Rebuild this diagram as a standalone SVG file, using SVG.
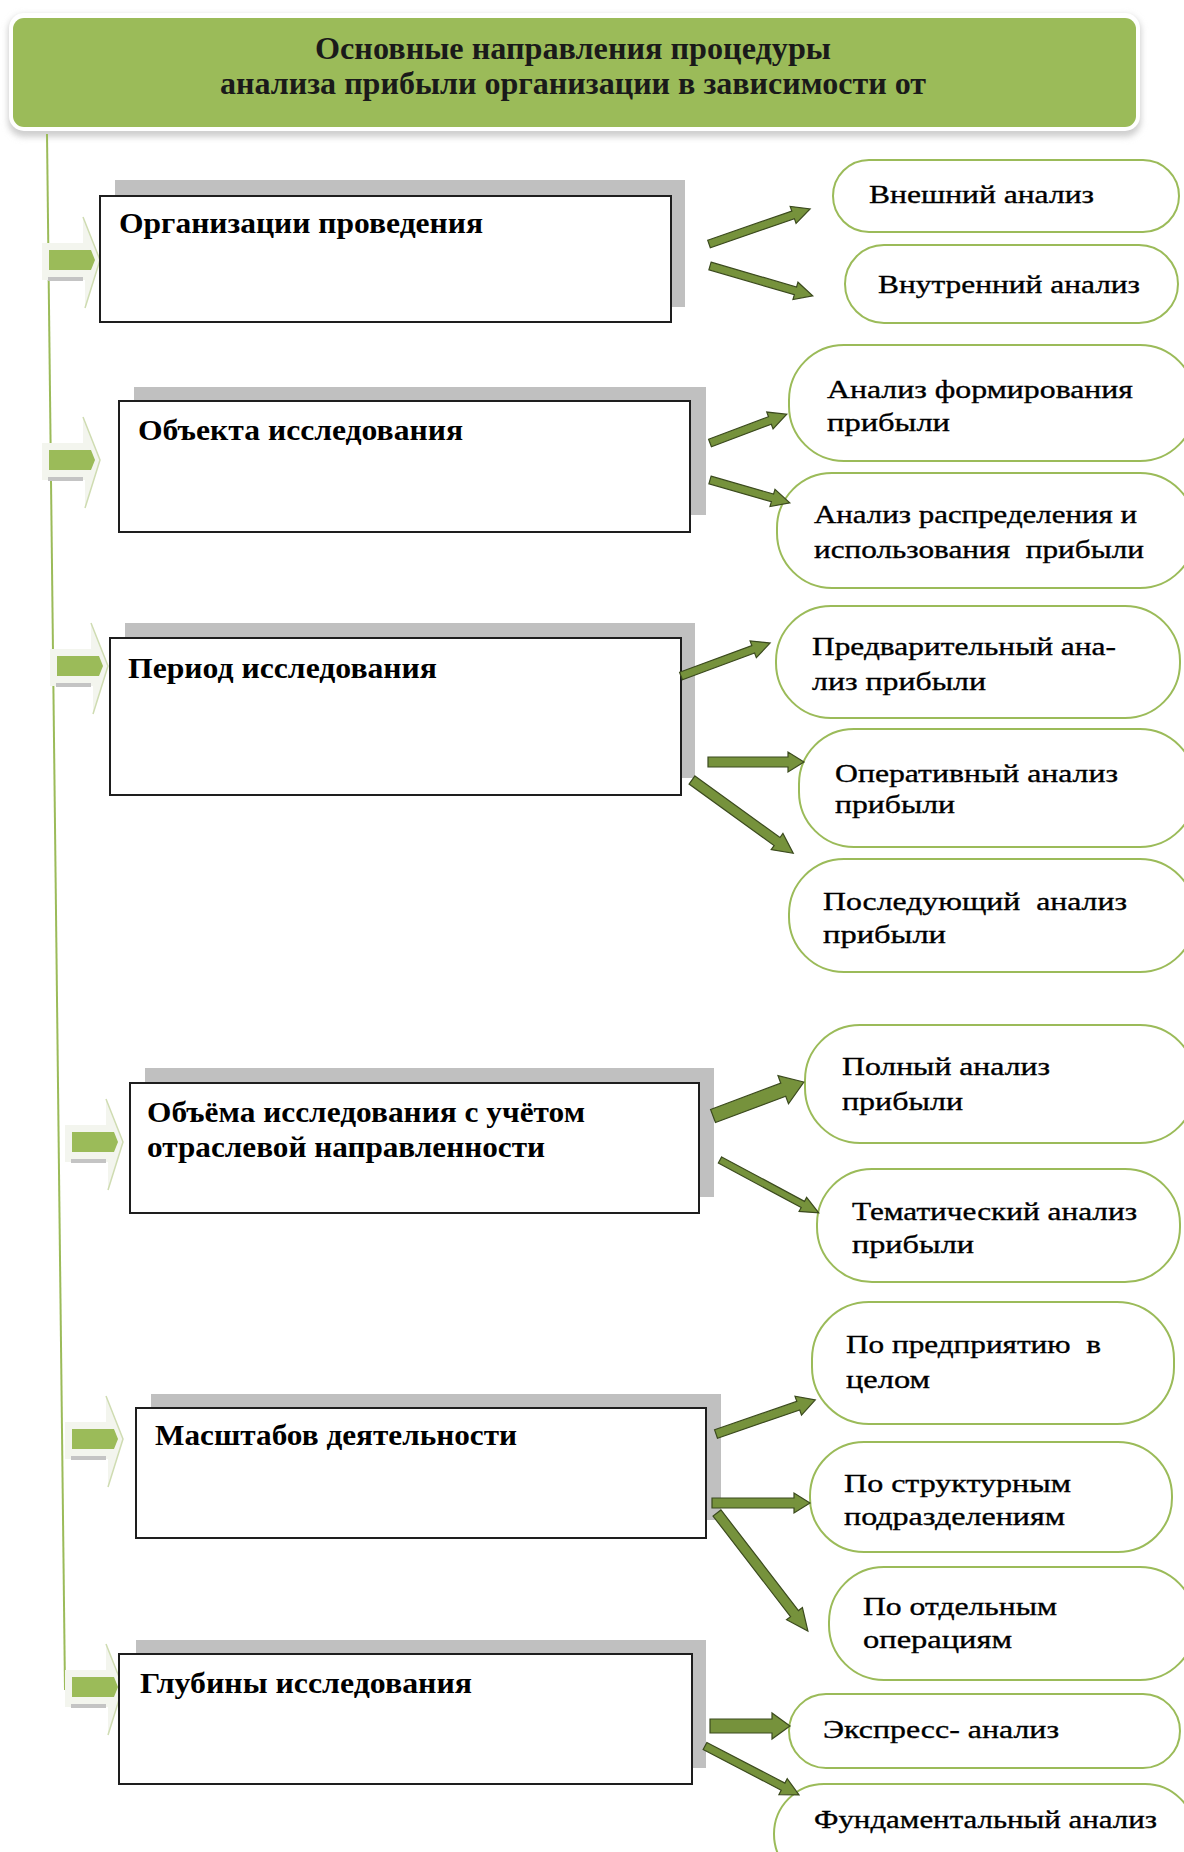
<svg xmlns="http://www.w3.org/2000/svg" width="1184" height="1852" viewBox="0 0 1184 1852">
<defs>
<style>
.ttl{font-family:"Liberation Serif","Times New Roman",serif;font-weight:bold;font-size:31px;fill:#1a1a1a}
.lbl{font-family:"Liberation Serif","Times New Roman",serif;font-weight:bold;font-size:30px;fill:#000}
.pt{font-family:"Liberation Serif","Times New Roman",serif;font-size:26px;fill:#000;stroke:#000;stroke-width:0.35}
.box{fill:#fff;stroke:#1e1e1e;stroke-width:2}
.shd{fill:#c0c0c0}
.pill{fill:#fff;stroke:#9bbb59;stroke-width:2}
.arr{fill:#76923c;stroke:#3b4a1e;stroke-width:1.2}
.pale{fill:#f3f5ee}
.tipl{fill:none;stroke:#cfdcb2;stroke-width:1.5}
.gr{fill:#9bbb59}
.gbar{fill:#c4c4c4}
</style>
<filter id="blur" x="-5%" y="-20%" width="110%" height="140%"><feGaussianBlur stdDeviation="3"/></filter>
<g id="chev">
<polygon class="pale" points="-7,-17 34,-17 34,-43 51,0 36,48 36,20 -7,20"/>
<polyline class="tipl" points="34,-43 51,0 36,48"/>
<path class="gr" d="M0,-10 L42,-10 L46,0 L42,10 L0,10 Z"/>
<rect class="gbar" x="-1" y="17" width="35" height="4"/>
</g>
</defs>
<rect width="1184" height="1852" fill="#fff"/>

<g id="title">
<rect x="8" y="15" width="1133" height="122" rx="16" fill="#cfcfcf" filter="url(#blur)"/>
<rect x="9" y="13" width="1131" height="118" rx="15" fill="#fff"/>
<rect x="13" y="18" width="1123" height="109" rx="11" fill="#9bbb59"/>
<text class="ttl" x="573" y="59" text-anchor="middle" textLength="516" lengthAdjust="spacingAndGlyphs">Основные направления процедуры</text>
<text class="ttl" x="573" y="94" text-anchor="middle" textLength="706" lengthAdjust="spacingAndGlyphs">анализа прибыли организации в зависимости от</text>
</g>

<g id="spine">
<line x1="47" y1="134" x2="65" y2="1690" stroke="#9bbb59" stroke-width="2"/>
</g>

<g id="node1">
<use href="#chev" transform="translate(49,260)"/>
<rect class="shd" x="115" y="180" width="570" height="127"/>
<rect class="box" x="100" y="196" width="571" height="126"/>
<text class="lbl" x="119" y="233" textLength="364" lengthAdjust="spacingAndGlyphs">Организации проведения</text>
</g>
<g id="node1a">
<rect class="pill" x="833" y="160" width="346" height="72" rx="36"/>
<text class="pt" x="869" y="203" textLength="225" lengthAdjust="spacingAndGlyphs">Внешний анализ</text>
</g>
<g id="node1b">
<rect class="pill" x="845" y="245" width="333" height="78" rx="39"/>
<text class="pt" x="878" y="293" textLength="262" lengthAdjust="spacingAndGlyphs">Внутренний анализ</text>
</g>

<g id="node2">
<use href="#chev" transform="translate(49,460)"/>
<rect class="shd" x="134" y="387" width="572" height="128"/>
<rect class="box" x="119" y="401" width="571" height="131"/>
<text class="lbl" x="138" y="440" textLength="325" lengthAdjust="spacingAndGlyphs">Объекта исследования</text>
</g>
<g id="node2a">
<rect class="pill" x="789" y="345" width="406" height="116" rx="55"/>
<text class="pt" x="827" y="398" textLength="306" lengthAdjust="spacingAndGlyphs">Анализ формирования</text>
<text class="pt" x="827" y="431" textLength="123" lengthAdjust="spacingAndGlyphs">прибыли</text>
</g>
<g id="node2b">
<rect class="pill" x="777" y="473" width="418" height="115" rx="55"/>
<text class="pt" x="814" y="523" textLength="323" lengthAdjust="spacingAndGlyphs">Анализ распределения и</text>
<text class="pt" x="814" y="558" textLength="330" lengthAdjust="spacingAndGlyphs" xml:space="preserve">использования  прибыли</text>
</g>

<g id="node3">
<use href="#chev" transform="translate(57,666)"/>
<rect class="shd" x="125" y="623" width="570" height="155"/>
<rect class="box" x="110" y="638" width="571" height="157"/>
<text class="lbl" x="128" y="678" textLength="309" lengthAdjust="spacingAndGlyphs">Период исследования</text>
</g>
<g id="node3a">
<rect class="pill" x="776" y="606" width="404" height="112" rx="55"/>
<text class="pt" x="812" y="655" textLength="304" lengthAdjust="spacingAndGlyphs">Предварительный ана-</text>
<text class="pt" x="812" y="690" textLength="174" lengthAdjust="spacingAndGlyphs">лиз прибыли</text>
</g>
<g id="node3b">
<rect class="pill" x="799" y="729" width="396" height="118" rx="55"/>
<text class="pt" x="835" y="782" textLength="283" lengthAdjust="spacingAndGlyphs">Оперативный анализ</text>
<text class="pt" x="835" y="813" textLength="120" lengthAdjust="spacingAndGlyphs">прибыли</text>
</g>
<g id="node3c">
<rect class="pill" x="789" y="859" width="406" height="113" rx="55"/>
<text class="pt" x="823" y="910" textLength="304" lengthAdjust="spacingAndGlyphs" xml:space="preserve">Последующий  анализ</text>
<text class="pt" x="823" y="943" textLength="123" lengthAdjust="spacingAndGlyphs">прибыли</text>
</g>

<g id="node4">
<use href="#chev" transform="translate(72,1142)"/>
<rect class="shd" x="145" y="1068" width="569" height="129"/>
<rect class="box" x="130" y="1083" width="569" height="130"/>
<text class="lbl" x="147" y="1122" textLength="438" lengthAdjust="spacingAndGlyphs">Объёма исследования с учётом</text>
<text class="lbl" x="147" y="1157" textLength="398" lengthAdjust="spacingAndGlyphs">отраслевой направленности</text>
</g>
<g id="node4a">
<rect class="pill" x="805" y="1025" width="390" height="118" rx="55"/>
<text class="pt" x="842" y="1075" textLength="208" lengthAdjust="spacingAndGlyphs">Полный анализ</text>
<text class="pt" x="842" y="1110" textLength="121" lengthAdjust="spacingAndGlyphs">прибыли</text>
</g>
<g id="node4b">
<rect class="pill" x="817" y="1169" width="363" height="113" rx="55"/>
<text class="pt" x="852" y="1220" textLength="285" lengthAdjust="spacingAndGlyphs">Тематический анализ</text>
<text class="pt" x="852" y="1253" textLength="122" lengthAdjust="spacingAndGlyphs">прибыли</text>
</g>

<g id="node5">
<use href="#chev" transform="translate(72,1439)"/>
<rect class="shd" x="151" y="1394" width="570" height="126"/>
<rect class="box" x="136" y="1408" width="570" height="130"/>
<text class="lbl" x="155" y="1445" textLength="362" lengthAdjust="spacingAndGlyphs">Масштабов деятельности</text>
</g>
<g id="node5a">
<rect class="pill" x="812" y="1302" width="362" height="122" rx="57"/>
<text class="pt" x="846" y="1353" textLength="255" lengthAdjust="spacingAndGlyphs" xml:space="preserve">По предприятию  в</text>
<text class="pt" x="846" y="1388" textLength="84" lengthAdjust="spacingAndGlyphs">целом</text>
</g>
<g id="node5b">
<rect class="pill" x="810" y="1442" width="362" height="110" rx="54"/>
<text class="pt" x="844" y="1492" textLength="227" lengthAdjust="spacingAndGlyphs">По структурным</text>
<text class="pt" x="844" y="1525" textLength="221" lengthAdjust="spacingAndGlyphs">подразделениям</text>
</g>
<g id="node5c">
<rect class="pill" x="829" y="1567" width="366" height="113" rx="55"/>
<text class="pt" x="863" y="1615" textLength="194" lengthAdjust="spacingAndGlyphs">По отдельным</text>
<text class="pt" x="863" y="1648" textLength="149" lengthAdjust="spacingAndGlyphs">операциям</text>
</g>

<g id="node6">
<use href="#chev" transform="translate(72,1687)"/>
<rect class="shd" x="136" y="1640" width="570" height="128"/>
<rect class="box" x="119" y="1654" width="573" height="130"/>
<text class="lbl" x="140" y="1693" textLength="332" lengthAdjust="spacingAndGlyphs">Глубины исследования</text>
</g>
<g id="node6a">
<rect class="pill" x="789" y="1694" width="391" height="74" rx="37"/>
<text class="pt" x="823" y="1738" textLength="236" lengthAdjust="spacingAndGlyphs">Экспресс- анализ</text>
</g>
<g id="node6b">
<rect class="pill" x="774" y="1784" width="421" height="100" rx="50"/>
<text class="pt" x="814" y="1828" textLength="343" lengthAdjust="spacingAndGlyphs">Фундаментальный анализ</text>
</g>

<g id="connectors">
<polygon class="arr" points="0,-4 89,-4 89,-9 107,0 89,9 89,4 0,4" transform="translate(709,244) rotate(-19.1)"/>
<polygon class="arr" points="0,-4 89,-4 89,-9 107,0 89,9 89,4 0,4" transform="translate(710,266) rotate(16.2)"/>
<polygon class="arr" points="0,-4 64,-4 64,-9 82,0 64,9 64,4 0,4" transform="translate(710,443) rotate(-20.6)"/>
<polygon class="arr" points="0,-4 65,-4 65,-9 83,0 65,9 65,4 0,4" transform="translate(710,480) rotate(16)"/>
<polygon class="arr" points="0,-4 77,-4 77,-9 95,0 77,9 77,4 0,4" transform="translate(681,676) rotate(-20.3)"/>
<polygon class="arr" points="0,-5 80,-5 80,-10 96,0 80,10 80,5 0,5" transform="translate(708,762)"/>
<polygon class="arr" points="0,-5 105,-5 105,-10 125,0 105,10 105,5 0,5" transform="translate(692,780) rotate(35.9)"/>
<polygon class="arr" points="0,-7 75,-7 75,-15 97,0 75,15 75,7 0,7" transform="translate(713,1116) rotate(-20.5)"/>
<polygon class="arr" points="0,-3.5 94,-3.5 94,-8 112,0 94,8 94,3.5 0,3.5" transform="translate(720,1160) rotate(28.2)"/>
<polygon class="arr" points="0,-4.5 87,-4.5 87,-10 105,0 87,10 87,4.5 0,4.5" transform="translate(716,1434) rotate(-19)"/>
<polygon class="arr" points="0,-5 82,-5 82,-10 98,0 82,10 82,5 0,5" transform="translate(712,1503)"/>
<polygon class="arr" points="0,-5 127,-5 127,-10 149,0 127,10 127,5 0,5" transform="translate(717,1513) rotate(52.4)"/>
<polygon class="arr" points="0,-7 62,-7 62,-13 80,0 62,13 62,7 0,7" transform="translate(710,1726)"/>
<polygon class="arr" points="0,-4 88,-4 88,-9 106,0 88,9 88,4 0,4" transform="translate(705,1746) rotate(27.5)"/>
</g>
</svg>
